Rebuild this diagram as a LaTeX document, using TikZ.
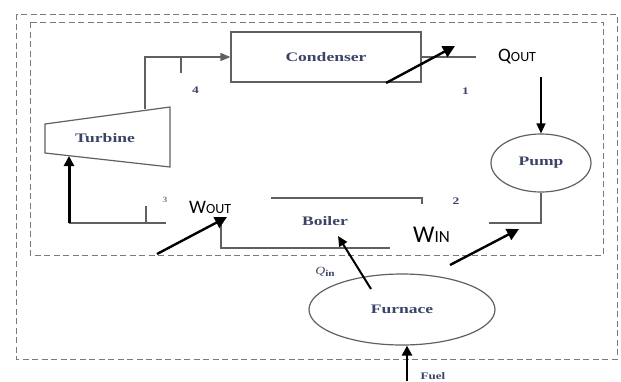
\documentclass[tikz,border=0pt]{standalone}
\usepackage{fontspec}
\setmainfont{Liberation Serif}
\newfontfamily\labelsans{Carlito}
\usetikzlibrary{arrows.meta,shapes.geometric}
\definecolor{linegray}{HTML}{606060}
\definecolor{dashgray}{HTML}{7A7A7A}
\definecolor{inkblue}{HTML}{3A4466}
% wide serif captions for the plant units
\newcommand{\unitname}[1]{\scalebox{1.35}[1]{\bfseries\fontsize{13}{13}\selectfont #1}}
% wide serif state numbers
\newcommand{\statemark}[1]{\scalebox{1.35}[1]{\bfseries\fontsize{10}{10}\selectfont #1}}
\begin{document}
\begin{tikzpicture}[x=1pt,y=-1pt,
  unit/.style={draw=linegray, line width=1.2pt, text=inkblue},
  bound/.style={draw=dashgray, line width=1pt, dash pattern=on 6pt off 3.5pt},
  flow/.style={draw=linegray, line width=1.3pt},
  feed/.style={draw=black, line width=1.8pt, -{Triangle[length=10pt,width=9pt]}},
  energy/.style={draw=black, line width=2.4pt, -{Triangle[length=12pt,width=12pt]}},
  statenum/.style={text=inkblue, inner sep=0pt},
  sanslabel/.style={font=\labelsans, text=black, inner sep=0pt, anchor=base west}
]
\useasboundingbox (0,0) rectangle (621,381);

% system boundaries
\draw[bound] (16,14) rectangle (617,359);
\draw[bound] (30,22) rectangle (603,255);

% condenser
\node[unit, rectangle, minimum width=190pt, minimum height=50pt] (cond) at (326,57) {\unitname{Condenser}};

% turbine
\coordinate (ta) at (45,124);
\coordinate (tb) at (170,107);
\coordinate (tc) at (170,167);
\coordinate (td) at (45,153);
\draw[unit] (ta) -- (tb) -- (tc) -- (td) -- cycle;
\node[text=inkblue] (turb) at (105,138) {\unitname{Turbine}};

% turbine exhaust to condenser (state 4)
\coordinate (tout) at (145,109);
\draw[flow, -{Triangle[length=10pt,width=8pt]}] (tout) |- (cond.west);
\coordinate (t4a) at (181,57);
\coordinate (t4b) at (181,73);
\draw[flow] (t4a) -- (t4b);
\node[statenum] (s4) at (195.5,90.5) {\statemark{4}};

% condenser outlet (state 1)
\coordinate (cout) at (476,57);
\draw[flow] (cond.east) -- (cout);
\node[statenum] (s1) at (465.5,91) {\statemark{1}};

% heat rejected
\coordinate (qoa) at (386,83);
\coordinate (qob) at (455,46);
\draw[energy] (qoa) -- (qob);
\node[sanslabel] (qout) at (498,61) {\fontsize{19}{19}\selectfont Q\fontsize{14}{14}\selectfont OUT};

% pump
\node[unit, ellipse, minimum width=100pt, minimum height=58pt, inner sep=0pt] (pump) at (541,163) {\unitname{Pump}};
\coordinate (pin) at (541,77);
\draw[feed, line width=1.6pt] (pin) -- (pump.north);
\coordinate (pout) at (489,223);
\draw[flow] (pump.south) |- (pout);
\node[statenum] (s2) at (456,201) {\statemark{2}};

% pump work
\coordinate (wia) at (450,265);
\coordinate (wib) at (519,229);
\draw[energy] (wia) -- (wib);
\node[sanslabel] (win) at (413,242) {\fontsize{24}{24}\selectfont W\fontsize{17}{17}\selectfont IN};

% boiler
\coordinate (ba) at (271,198);
\coordinate (bb) at (422,198);
\coordinate (bc) at (422,204);
\draw[flow] (ba) -- (bb) -- (bc);
\coordinate (bd) at (221,225);
\coordinate (be) at (221,248);
\coordinate (bf) at (390,248);
\draw[flow] (bd) -- (be) -- (bf);
\node[text=inkblue] (boiler) at (325,221) {\unitname{Boiler}};

% boiler to turbine (state 3)
\coordinate (s3a) at (166,223);
\coordinate (s3b) at (69,223);
\draw[flow] (s3a) -- (s3b);
\coordinate (s3c) at (146,223);
\coordinate (s3d) at (146,206);
\draw[flow] (s3c) -- (s3d);
\node[statenum, text=gray] (s3) at (165,200) {\scalebox{1.2}[1]{\bfseries\fontsize{8}{8}\selectfont 3}};
\coordinate (tin) at (69,156);
\draw[draw=black, line width=3pt, -{Triangle[length=10pt,width=10pt]}] (s3b) -- (tin);

% turbine work
\coordinate (woa) at (157,254);
\coordinate (wob) at (227,217);
\draw[energy] (woa) -- (wob);
\node[sanslabel] (wout) at (189,213) {\fontsize{19}{19}\selectfont W\fontsize{14}{14}\selectfont OUT};

% furnace
\node[unit, ellipse, minimum width=186pt, minimum height=71pt, inner sep=0pt] (furn) at (402,309.5) {\unitname{Furnace}};
\coordinate (qia) at (371,289);
\coordinate (qib) at (338,236);
\draw[feed, line width=2pt] (qia) -- (qib);
\node[text=inkblue, inner sep=0pt] (qin) at (325,272) {\scalebox{1.25}[1]{\fontsize{11}{11}\selectfont\textit{Q}\raisebox{-2pt}{\bfseries\fontsize{9}{9}\selectfont in}}};

% fuel supply
\coordinate (fuel) at (407,381);
\draw[draw=black, line width=2.6pt, -{Triangle[length=10pt,width=10pt]}] (fuel) -- (fuel |- furn.south);
\node[text=inkblue, inner sep=0pt] (fuellbl) at (433,376) {\scalebox{1.3}[1]{\bfseries\fontsize{10}{10}\selectfont Fuel}};
\end{tikzpicture}
\end{document}
